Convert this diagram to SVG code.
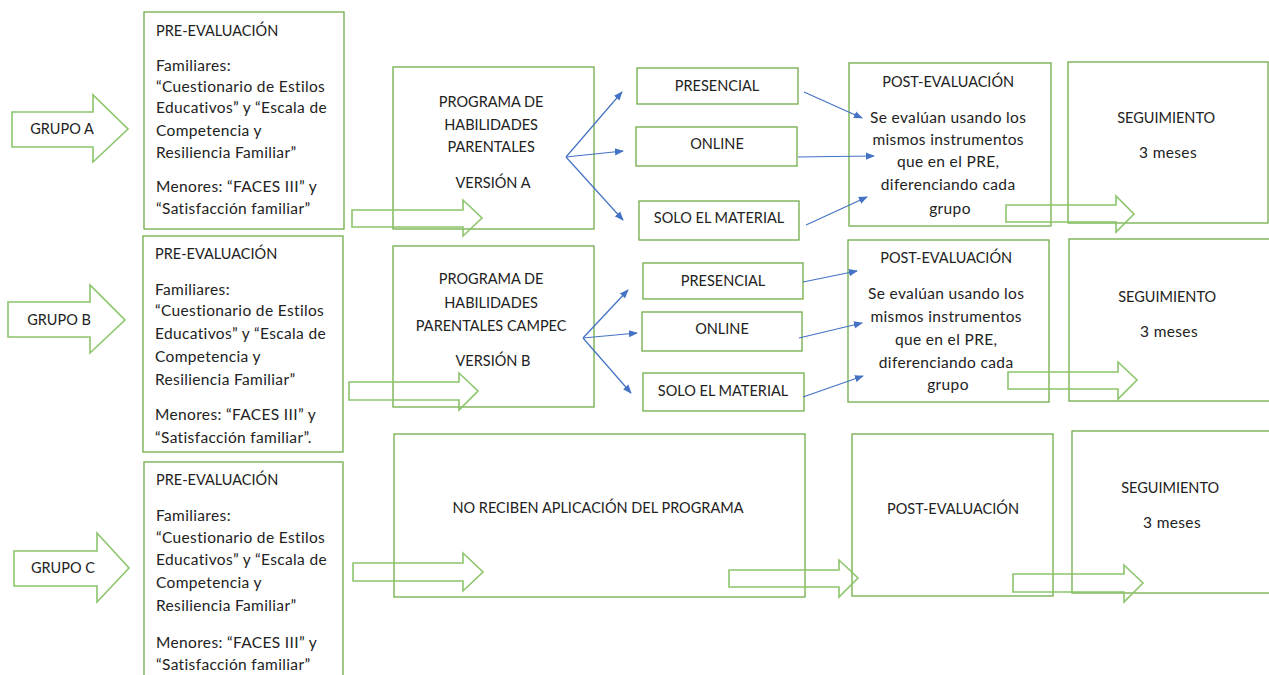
<svg xmlns="http://www.w3.org/2000/svg" width="1269" height="675" viewBox="0 0 1269 675">
<defs>
<style>
.box{fill:none;stroke:#70AD47;stroke-width:1.3}
.big{fill:none;stroke:#8CC56B;stroke-width:1.6;stroke-linejoin:miter}
.t{font-family:Lato,"Liberation Sans",sans-serif;font-size:14.5px;fill:#222}
.m{font-size:15.5px;letter-spacing:0.35px}
.c{text-anchor:middle}
.con line{stroke:#4472C4;stroke-width:1.2;marker-end:url(#ah)}
</style>
<marker id="ah" viewBox="0 0 10 10" refX="9" refY="5" markerWidth="9" markerHeight="9" markerUnits="userSpaceOnUse" orient="auto">
<path d="M0,1 L10,5 L0,9 z" fill="#4472C4"/>
</marker>
</defs>
<rect width="1269" height="675" fill="#fff"/>

<g id="grupoA">
<polygon class="big" points="12,112 93,112 93,95 128,129 93,162 93,147 12,147"/>
<text class="t c" x="62" y="134">GRUPO A</text>
</g>
<g id="grupoB">
<polygon class="big" points="8,302 90,302 90,285 125,320 90,353 90,337 8,337"/>
<text class="t c" x="59" y="325">GRUPO B</text>
</g>
<g id="grupoC">
<polygon class="big" points="14,551 97,551 97,533 129,568 97,602 97,586 14,586"/>
<text class="t c" x="63" y="573">GRUPO C</text>
</g>

<g id="preA">
<rect class="box" x="144" y="12" width="200" height="217"/>
<text class="t">
<tspan x="156" y="36">PRE-EVALUACIÓN</tspan>
<tspan class="m" x="156" y="71">Familiares:</tspan>
<tspan class="m" x="156" y="92">“Cuestionario de Estilos</tspan>
<tspan class="m" x="156" y="113">Educativos” y “Escala de</tspan>
<tspan class="m" x="156" y="136">Competencia y</tspan>
<tspan class="m" x="156" y="158">Resiliencia Familiar”</tspan>
<tspan class="m" x="156" y="192">Menores: “FACES III” y</tspan>
<tspan class="m" x="156" y="214">“Satisfacción familiar”</tspan>
</text>
</g>
<g id="preB">
<rect class="box" x="143" y="236" width="200" height="216"/>
<text class="t">
<tspan x="155" y="259">PRE-EVALUACIÓN</tspan>
<tspan class="m" x="155" y="295">Familiares:</tspan>
<tspan class="m" x="155" y="316">“Cuestionario de Estilos</tspan>
<tspan class="m" x="155" y="339">Educativos” y “Escala de</tspan>
<tspan class="m" x="155" y="362">Competencia y</tspan>
<tspan class="m" x="155" y="385">Resiliencia Familiar”</tspan>
<tspan class="m" x="155" y="420">Menores: “FACES III” y</tspan>
<tspan class="m" x="155" y="443">“Satisfacción familiar”.</tspan>
</text>
</g>
<g id="preC">
<rect class="box" x="144" y="462" width="199" height="220"/>
<text class="t">
<tspan x="156" y="485">PRE-EVALUACIÓN</tspan>
<tspan class="m" x="156" y="521">Familiares:</tspan>
<tspan class="m" x="156" y="543">“Cuestionario de Estilos</tspan>
<tspan class="m" x="156" y="565">Educativos” y “Escala de</tspan>
<tspan class="m" x="156" y="588">Competencia y</tspan>
<tspan class="m" x="156" y="611">Resiliencia Familiar”</tspan>
<tspan class="m" x="156" y="648">Menores: “FACES III” y</tspan>
<tspan class="m" x="156" y="670">“Satisfacción familiar”</tspan>
</text>
</g>

<g id="progA">
<rect class="box" x="393" y="67" width="201" height="162"/>
<text class="t c">
<tspan x="493" y="107">PROGRAMA DE</tspan>
<tspan x="493" y="130">HABILIDADES</tspan>
<tspan x="493" y="152">PARENTALES</tspan>
<tspan x="493" y="188">VERSIÓN A</tspan>
</text>
</g>
<g id="progB">
<rect class="box" x="393" y="246" width="201" height="161"/>
<text class="t c">
<tspan x="493" y="284">PROGRAMA DE</tspan>
<tspan x="493" y="308">HABILIDADES</tspan>
<tspan x="493" y="331">PARENTALES CAMPEC</tspan>
<tspan x="493" y="366">VERSIÓN B</tspan>
</text>
</g>
<g id="noRecC">
<rect class="box" x="394" y="434" width="411" height="163"/>
<text class="t c" x="598" y="513">NO RECIBEN APLICACIÓN DEL PROGRAMA</text>
</g>

<g id="presA">
<rect class="box" x="637" y="68" width="161" height="36"/>
<text class="t c" x="717" y="91">PRESENCIAL</text>
</g>
<g id="onlineA">
<rect class="box" x="636" y="127" width="161" height="39"/>
<text class="t c" x="717" y="149">ONLINE</text>
</g>
<g id="soloA">
<rect class="box" x="639" y="201" width="160" height="39"/>
<text class="t c" x="719" y="223">SOLO EL MATERIAL</text>
</g>
<g id="presB">
<rect class="box" x="643" y="263" width="160" height="36"/>
<text class="t c" x="723" y="286">PRESENCIAL</text>
</g>
<g id="onlineB">
<rect class="box" x="642" y="312" width="160" height="39"/>
<text class="t c" x="722" y="334">ONLINE</text>
</g>
<g id="soloB">
<rect class="box" x="643" y="373" width="161" height="38"/>
<text class="t c" x="723" y="396">SOLO EL MATERIAL</text>
</g>

<g id="postA">
<rect class="box" x="849" y="63" width="202" height="163"/>
<text class="t c">
<tspan x="950" y="87">POST-EVALUACIÓN</tspan>
<tspan class="m" x="950" y="123">Se evalúan usando los</tspan>
<tspan class="m" x="950" y="145">mismos instrumentos</tspan>
<tspan class="m" x="950" y="167">que en el PRE,</tspan>
<tspan class="m" x="950" y="190">diferenciando cada</tspan>
<tspan class="m" x="950" y="214">grupo</tspan>
</text>
</g>
<g id="postB">
<rect class="box" x="848" y="240" width="201" height="162"/>
<text class="t c">
<tspan x="948" y="263">POST-EVALUACIÓN</tspan>
<tspan class="m" x="948" y="299">Se evalúan usando los</tspan>
<tspan class="m" x="948" y="322">mismos instrumentos</tspan>
<tspan class="m" x="948" y="345">que en el PRE,</tspan>
<tspan class="m" x="948" y="368">diferenciando cada</tspan>
<tspan class="m" x="948" y="390">grupo</tspan>
</text>
</g>
<g id="postC">
<rect class="box" x="852" y="434" width="201" height="162"/>
<text class="t c" x="953" y="514">POST-EVALUACIÓN</text>
</g>

<g id="segA">
<rect class="box" x="1068" y="62" width="200" height="161"/>
<text class="t c">
<tspan x="1168" y="123">SEGUIMIENTO</tspan>
<tspan class="m" x="1168" y="158">3 meses</tspan>
</text>
</g>
<g id="segB">
<rect class="box" x="1069" y="239" width="204" height="162"/>
<text class="t c">
<tspan x="1169" y="302">SEGUIMIENTO</tspan>
<tspan class="m" x="1169" y="337">3 meses</tspan>
</text>
</g>
<g id="segC">
<rect class="box" x="1072" y="431" width="201" height="162"/>
<text class="t c">
<tspan x="1172" y="493">SEGUIMIENTO</tspan>
<tspan class="m" x="1172" y="528">3 meses</tspan>
</text>
</g>

<g id="connectors">
<polygon class="big" points="352,210 463,210 463,200 482,218 463,236 463,227 352,227"/>
<polygon class="big" points="1006,205 1116,205 1116,196 1134,214 1116,232 1116,222 1006,222"/>
<polygon class="big" points="349,382 459,382 459,373 478,391 459,410 459,400 349,400"/>
<polygon class="big" points="1008,372 1118,372 1118,362 1137,380 1118,399 1118,389 1008,389"/>
<polygon class="big" points="353,563 463,563 463,553 483,572 463,591 463,581 353,581"/>
<polygon class="big" points="729,570 839,570 839,560 858,578 839,597 839,587 729,587"/>
<polygon class="big" points="1013,574 1124,574 1124,565 1143,583 1124,602 1124,592 1013,592"/>
<g class="con">
<line x1="566" y1="157" x2="622" y2="92"/>
<line x1="566" y1="157" x2="623" y2="151"/>
<line x1="566" y1="157" x2="623" y2="220"/>
<line x1="804" y1="92" x2="862" y2="118"/>
<line x1="798" y1="157" x2="874" y2="156"/>
<line x1="806" y1="225" x2="867" y2="197"/>
<line x1="583" y1="338" x2="628" y2="290"/>
<line x1="583" y1="338" x2="637" y2="333"/>
<line x1="583" y1="338" x2="631" y2="393"/>
<line x1="803" y1="282" x2="857" y2="271"/>
<line x1="799" y1="338" x2="862" y2="323"/>
<line x1="803" y1="397" x2="863" y2="376"/>
</g>
</g>
</svg>
